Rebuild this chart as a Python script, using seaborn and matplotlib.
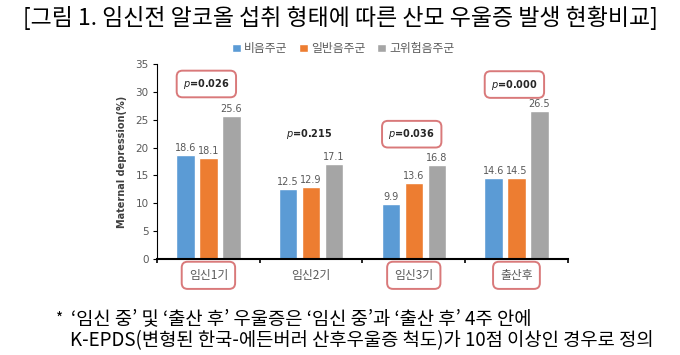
import matplotlib
matplotlib.use("Agg")
import matplotlib.pyplot as plt
import seaborn as sns
import pandas as pd

categories = ["임신1기", "임신2기", "임신3기", "출산후"]
groups = ["비음주군", "일반음주군", "고위험음주군"]
non_drinker = [18.6, 12.5, 9.9, 14.6]
normal_drinker = [18.1, 12.9, 13.6, 14.5]
high_risk = [25.6, 17.1, 16.8, 26.5]
p_values = ["0.026", "0.215", "0.036", "0.000"]
p_boxed = [True, False, True, True]
label_boxed = [True, False, True, True]

rows = []
for g, vals in zip(groups, [non_drinker, normal_drinker, high_risk]):
    for c, v in zip(categories, vals):
        rows.append({"category": c, "group": g, "value": v})
df = pd.DataFrame(rows)

sns.set_style("white")
plt.rcParams["font.family"] = ["Noto Sans CJK KR", "DejaVu Sans"]

fig = plt.figure(figsize=(6.8, 3.55), dpi=100)
ax = fig.add_axes([0.231, 0.270, 0.604, 0.550])

palette = ["#5B9BD5", "#ED7D31", "#A5A5A5"]
sns.barplot(data=df, x="category", y="value", hue="group", order=categories,
            hue_order=groups, palette=palette, width=0.67, gap=0.2,
            saturation=1, ax=ax, legend=True)

for cont in ax.containers:
    ax.bar_label(cont, fmt="%.1f", fontsize=7, color="#595959", padding=1.5,
                 family="DejaVu Sans")

ax.set_ylim(0, 35)
ax.set_xlim(-0.5, 3.5)
ax.set_yticks(range(0, 36, 5))
ax.tick_params(axis="y", labelsize=7.5, labelcolor="#595959", length=3,
               direction="out", left=True, color="black", width=0.8, pad=3)
ax.set_xticks([-0.5, 0.5, 1.5, 2.5, 3.5])
ax.set_xticklabels([])
ax.tick_params(axis="x", length=3, direction="out", bottom=True, color="black",
               width=1.2)
for lbl in ax.get_yticklabels():
    lbl.set_family("DejaVu Sans")
ax.set_xlabel("")
ax.set_ylabel("Maternal depression(%)", fontsize=7, color="#404040",
              family="DejaVu Sans", fontweight="bold", labelpad=6)
for s in ["top", "right"]:
    ax.spines[s].set_visible(False)
ax.spines["left"].set_color("black")
ax.spines["bottom"].set_color("black")
ax.spines["bottom"].set_linewidth(1.5)
ax.spines["left"].set_linewidth(0.8)

# category labels below axis
for i, (c, boxed) in enumerate(zip(categories, label_boxed)):
    bbox = None
    if boxed:
        bbox = dict(boxstyle="round,pad=0.6,rounding_size=0.5",
                    fc="white", ec="#D9797A", lw=1.4)
    ax.text(i, -2.9, c, ha="center", va="center", fontsize=8.5,
            color="#595959", bbox=bbox, clip_on=False)

# p-value labels
p_y = [31.4, 22.4, 22.4, 31.3]
for i, (p, boxed, yy) in enumerate(zip(p_values, p_boxed, p_y)):
    bbox = None
    if boxed:
        bbox = dict(boxstyle="round,pad=0.65,rounding_size=0.6",
                    fc="white", ec="#D9797A", lw=1.4)
    ax.text(i - 0.02, yy, r"$p$=" + p, ha="center", va="center", fontsize=7,
            color="#262626", fontweight="bold", family="DejaVu Sans",
            bbox=bbox)

# legend
handles, labels = ax.get_legend_handles_labels()
ax.get_legend().remove()
fig.legend(handles, labels, loc="center", bbox_to_anchor=(0.505, 0.862),
           ncol=3, frameon=False, fontsize=8.5, handlelength=0.7,
           handleheight=0.7, handletextpad=0.3, columnspacing=1.0,
           labelcolor="#595959")

fig.text(0.5, 0.950, "[그림 1. 임신전 알코올 섭취 형태에 따른 산모 우울증 발생 현황비교]",
         ha="center", va="center", fontsize=16.5, color="black")

fig.text(0.083, 0.100, "*", ha="left", va="center", fontsize=11, color="black")
fig.text(0.105, 0.102, "‘임신 중’ 및 ‘출산 후’ 우울증은 ‘임신 중’과 ‘출산 후’ 4주 안에",
         ha="left", va="center", fontsize=13.5, color="black")
fig.text(0.103, 0.040, "K-EPDS(변형된 한국-에든버러 산후우울증 척도)가 10점 이상인 경우로 정의",
         ha="left", va="center", fontsize=13.5, color="black")

fig.savefig("out.png", dpi=100)
